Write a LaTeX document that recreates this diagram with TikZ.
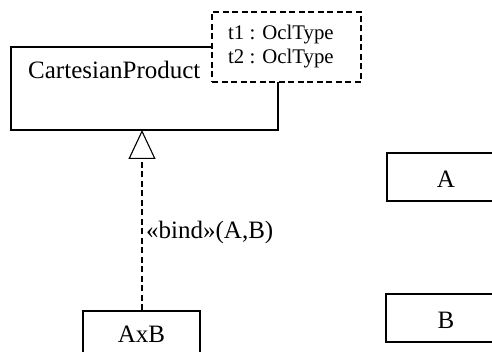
\documentclass[tikz,border=0pt]{standalone}
\usepackage{fontspec}
\setmainfont{Liberation Serif}
\usetikzlibrary{arrows.meta}
\tikzset{
  box/.style={draw, line width=1.1pt, inner sep=0pt},
  lbl/.style={inner sep=0pt, font=\fontsize{25}{30}\selectfont},
  small/.style={inner sep=0pt, font=\fontsize{20.8}{25}\selectfont},
  dsh/.style={dash pattern=on 6pt off 3.5pt},
}
\begin{document}
\begin{tikzpicture}[x=1pt,y=-1pt]
\useasboundingbox (0,0) rectangle (492,352);
\clip (0,0) rectangle (492,352);
% CartesianProduct class
\node[box, minimum width=267pt, minimum height=83pt] (cp) at (144.5,88.5) {};
\node[lbl, anchor=base west] (cpname) at (28,79) {CartesianProduct};
% template parameters
\node[box, dsh, fill=white, minimum width=149pt, minimum height=70pt] (tp) at (286.5,47) {};
\node[small, anchor=base west] (t1) at (228,39.5) {t1 : OclType};
\node[small, anchor=base west] (t2) at (228,64) {t2 : OclType};
% AxB
\node[box, minimum width=117pt, minimum height=50pt] (axb) at (141.5,336) {};
\node[lbl] (axbname) at (141.5,334) {AxB};
\coordinate (top) at (142,130);
\draw[line width=1.1pt, dsh, -{Triangle[open, length=29pt, width=27pt, line width=1.1pt]}] (axb.north -| top) -- (top);
\node[lbl, anchor=base west] (bind) at (146,239) {«bind»(A,B)};
% A and B
\node[box, minimum width=118pt, minimum height=48pt] (a) at (446,177) {};
\node[lbl] (aname) at (446,179) {A};
\node[box, minimum width=120pt, minimum height=48pt] (b) at (446,318) {};
\node[lbl] (bname) at (446,320) {B};
\end{tikzpicture}
\end{document}
